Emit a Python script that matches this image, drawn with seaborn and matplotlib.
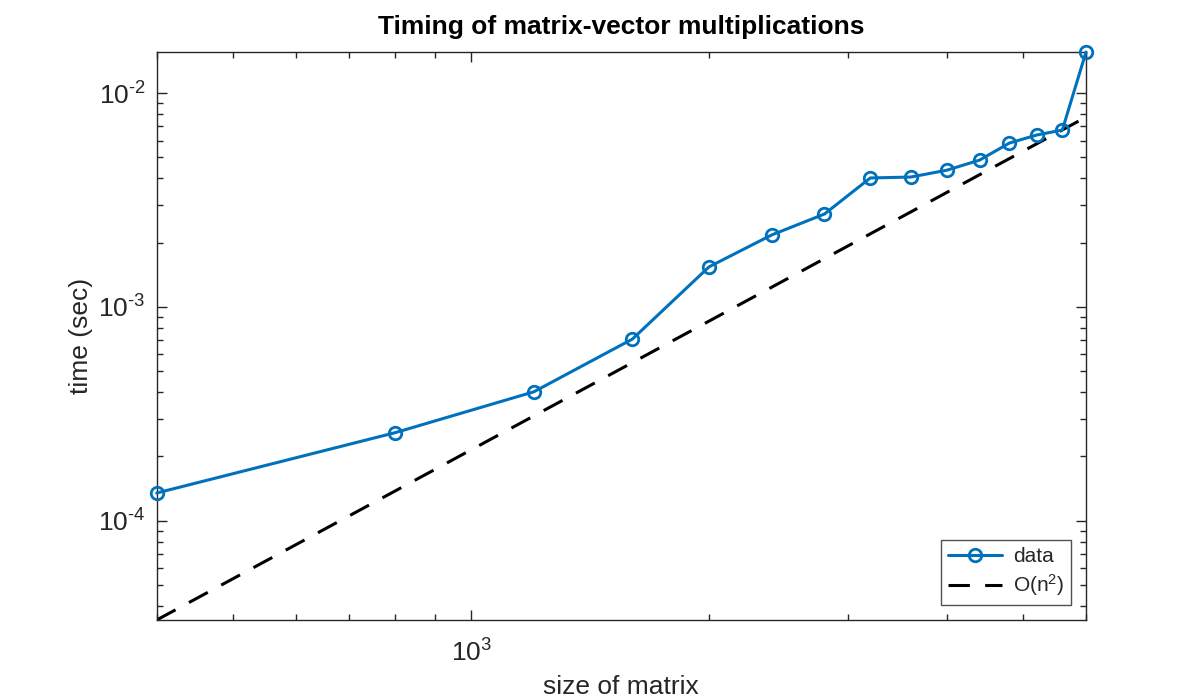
import numpy as np
import pandas as pd
import seaborn as sns
import matplotlib.pyplot as plt
from matplotlib.ticker import FuncFormatter, NullFormatter, LogLocator

# matrix sizes and measured times (sec)
sizes = [400, 800, 1200, 1600, 2000, 2400, 2800, 3200, 3600, 4000, 4400, 4800, 5200, 5600, 6000]
times = [1.35e-4, 2.58e-4, 4.01e-4, 7.08e-4, 1.54e-3, 2.17e-3, 2.72e-3, 4.01e-3,
         4.05e-3, 4.36e-3, 4.86e-3, 5.84e-3, 6.37e-3, 6.72e-3, 1.556e-2]

# O(n^2) reference line endpoints
ref_sizes = [400, 6000]
ref_times = [3.44e-5, 7.72e-3]

df = pd.DataFrame({"size": sizes, "time": times})
ref = pd.DataFrame({"size": ref_sizes, "time": ref_times})

sns.set_style("ticks")
plt.rcParams["font.family"] = ["Liberation Sans", "DejaVu Sans"]
plt.rcParams["mathtext.fontset"] = "custom"
plt.rcParams["mathtext.rm"] = "Liberation Sans"
plt.rcParams["mathtext.it"] = "Liberation Sans:italic"
plt.rcParams["mathtext.bf"] = "Liberation Sans:bold"
plt.rcParams["axes.unicode_minus"] = False

fig = plt.figure(figsize=(12, 7), dpi=100)
ax = fig.add_axes([0.1306, 0.1143, 0.7744, 0.8114])
ax.set_xscale("log")
ax.set_yscale("log")

blue = "#0072BD"
sns.lineplot(data=df, x="size", y="time", ax=ax, color=blue, linewidth=2.2,
             marker="o", markersize=9, markerfacecolor="none",
             markeredgecolor=blue, markeredgewidth=2, label="data", clip_on=False, zorder=3)
sns.lineplot(data=ref, x="size", y="time", ax=ax, color="black", linewidth=2.2,
             dashes=False, label="O(n$^2$)")
ax.lines[-1].set_dashes((7, 5))

ax.set_xlim(400, 6000)
ax.set_ylim(3.44e-5, 1.556e-2)


def decade_label(v, pos):
    e = int(round(np.log10(v)))
    return "$10^{%s}$" % (str(e).replace("-", "\u2010"))


fmt = FuncFormatter(decade_label)
ax.xaxis.set_major_locator(LogLocator(base=10))
ax.yaxis.set_major_locator(LogLocator(base=10))
ax.xaxis.set_major_formatter(fmt)
ax.yaxis.set_major_formatter(fmt)
ax.xaxis.set_minor_formatter(NullFormatter())
ax.yaxis.set_minor_formatter(NullFormatter())

ax.tick_params(which="both", direction="in", top=True, right=True,
               labelsize=19, width=1, color="#262626", labelcolor="#262626")
ax.tick_params(which="major", length=7)
ax.tick_params(which="minor", length=4)
ax.tick_params(axis="y", which="major", pad=8)
ax.tick_params(axis="x", which="major", pad=14)
for s in ax.spines.values():
    s.set_visible(True)
    s.set_linewidth(1)
    s.set_color("#262626")

ax.set_title("Timing of matrix-vector multiplications", fontsize=19,
             fontweight="bold", color="black", pad=13)
ax.set_xlabel("size of matrix", fontsize=19, color="#262626", labelpad=6)
ax.set_ylabel("time (sec)", fontsize=19, color="#262626", labelpad=4)

leg = ax.legend(loc="lower right", fontsize=15, frameon=True, fancybox=False,
                edgecolor="#262626", borderaxespad=0.7, handlelength=2.6,
                borderpad=0.35, labelspacing=0.3, handletextpad=0.5)
leg.get_frame().set_linewidth(1)

fig.savefig("out.png", dpi=100, facecolor="white")
